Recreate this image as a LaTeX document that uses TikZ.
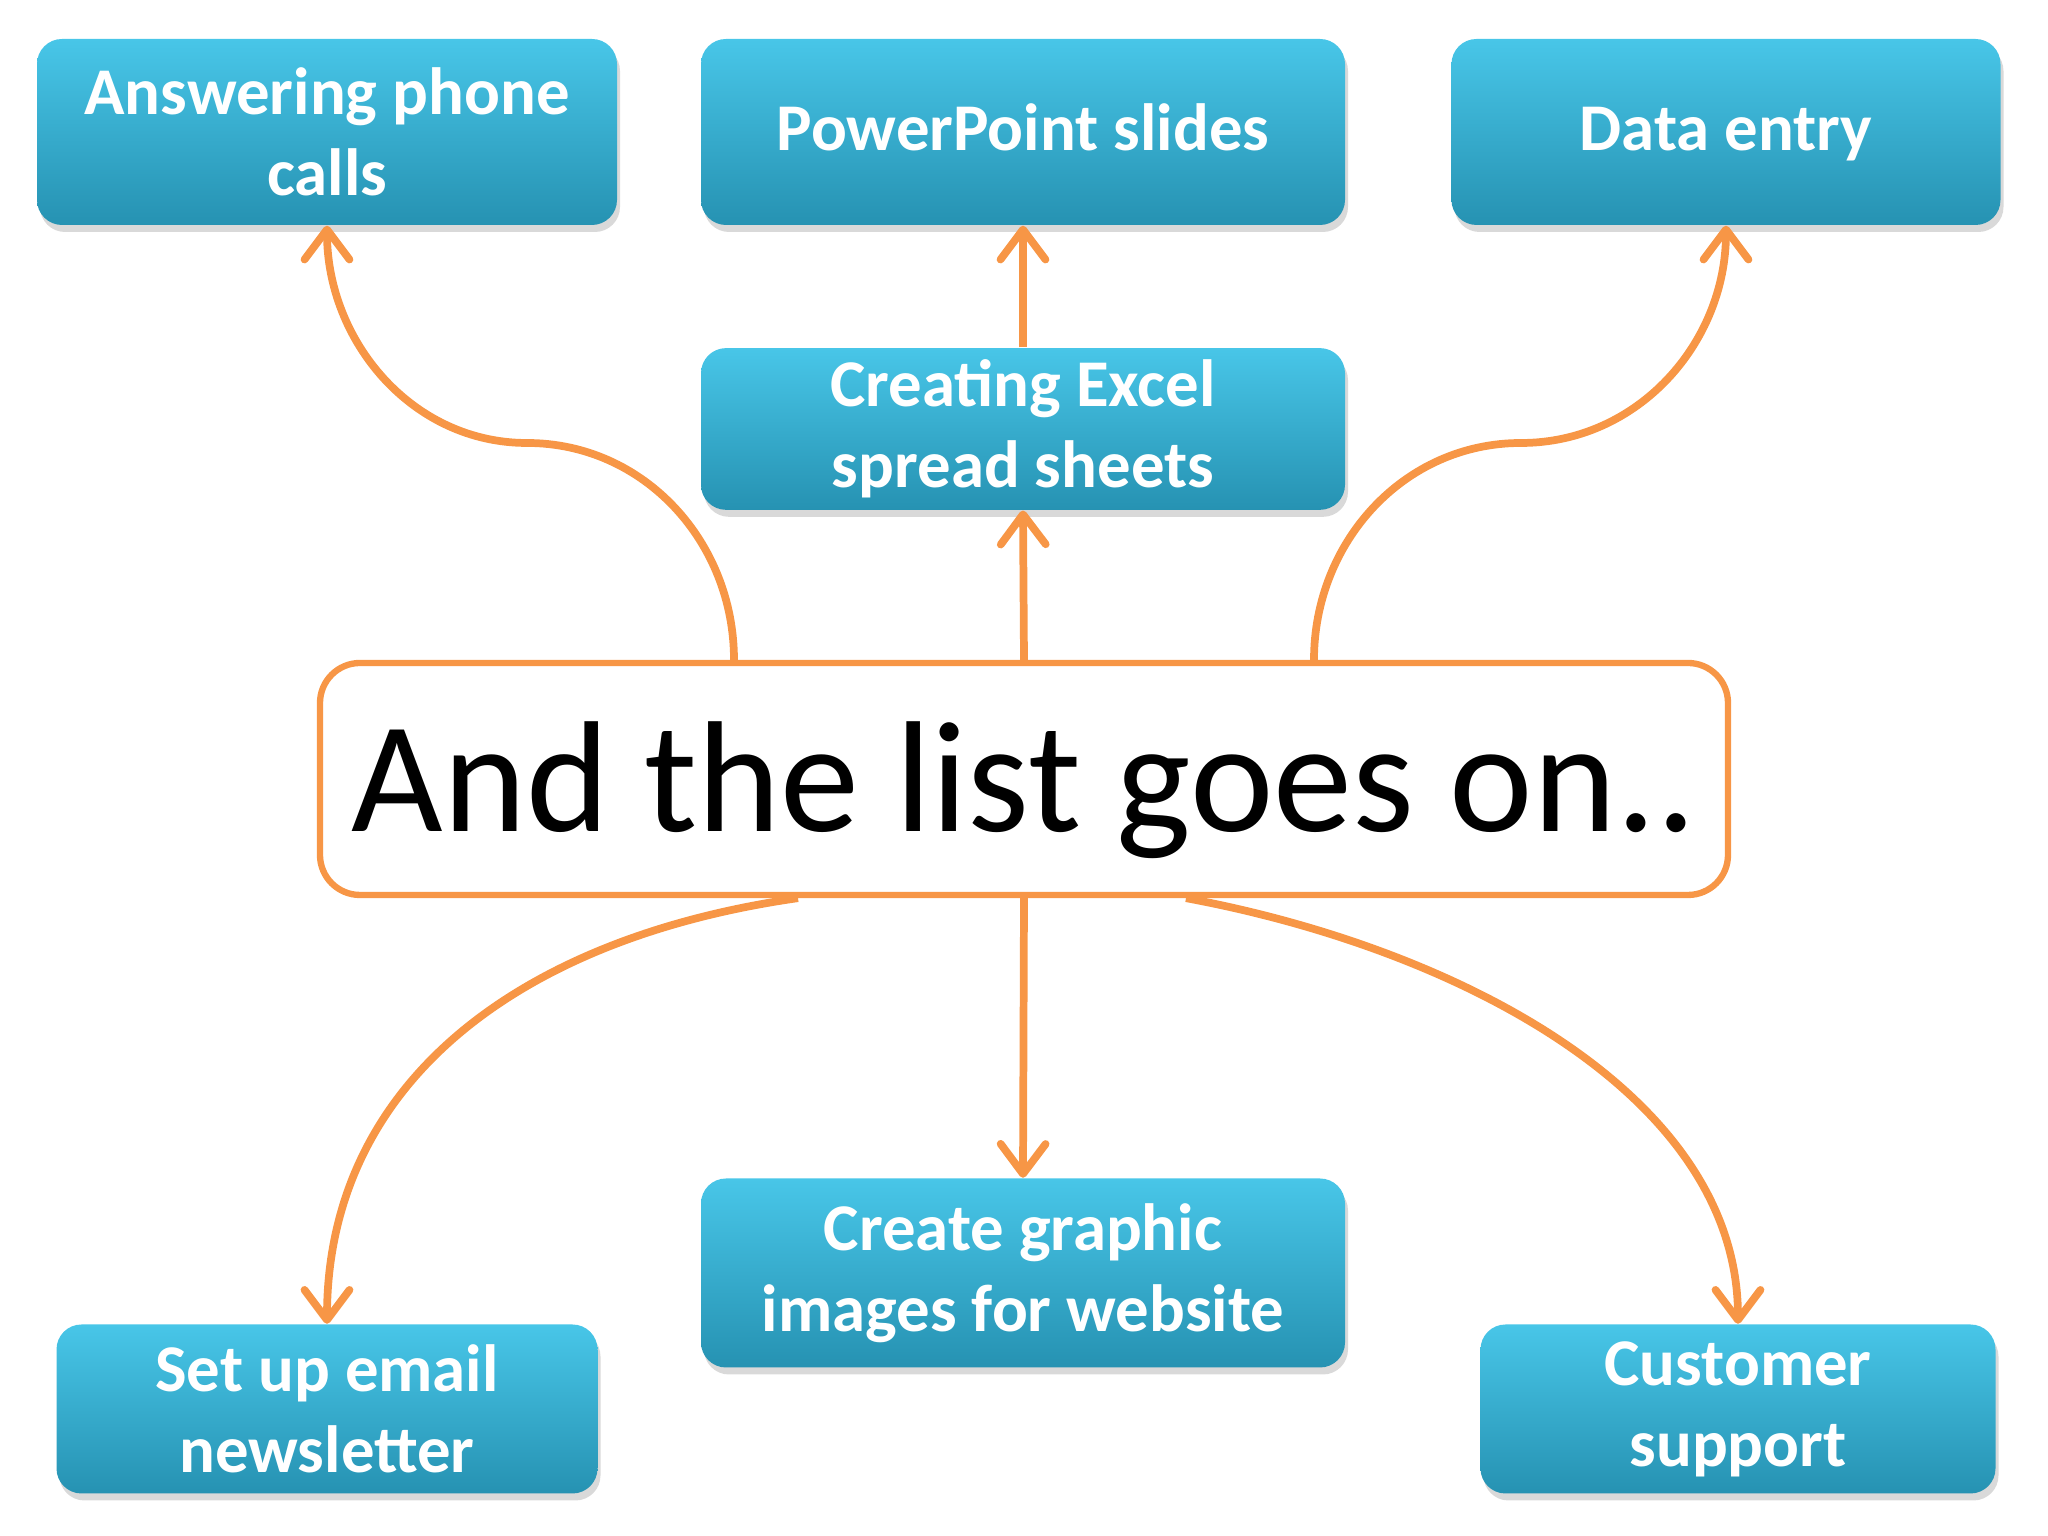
\documentclass[tikz,border=0pt]{standalone}
\usepackage{fontspec}
\setmainfont{Carlito}
\usetikzlibrary{arrows.meta,shadows}
\definecolor{naranja}{RGB}{247,150,70}
\definecolor{cianA}{RGB}{72,198,232}
\definecolor{cianB}{RGB}{38,146,178}

\begin{document}
\begin{tikzpicture}[
    caja/.style={rounded corners=0.25cm,top color=cianA,bottom color=cianB,
      drop shadow={opacity=0.3,shadow xshift=0.03cm,shadow yshift=-0.07cm},
      text=white,font=\bfseries\fontsize{19}{23}\selectfont,align=center,
      minimum height=1.86cm},
    unalinea/.style={text height=0.5cm,text depth=0.12cm},
    lista/.style={draw=naranja,line width=1.8pt,fill=white,rounded corners=0.4cm,
      minimum width=14.08cm,minimum height=2.32cm,font=\fontsize{45}{50}\selectfont},
    flecha/.style={naranja,line width=2.2pt,
      -{Straight Barb[round,length=0.3cm,width=0.45cm]}}
  ]
    \useasboundingbox (0,0) rectangle (20.48,15.36);

    % Cajas
    \node[caja,minimum width=5.80cm] (R) at (3.27,14.04) {Answering phone\\calls};
    \node[caja,unalinea,minimum width=6.44cm] (P) at (10.23,14.04) {PowerPoint slides};
    \node[caja,unalinea,minimum width=5.49cm] (D) at (17.26,14.04) {Data entry};
    \node[caja,minimum width=6.44cm,minimum height=1.60cm] (E) at (10.23,11.07) {Creating Excel\\spread sheets};
    \node[caja,minimum width=6.44cm,minimum height=1.89cm] (G) at (10.23,2.63) {Create graphic\\images for website};
    \node[caja,minimum width=5.41cm,minimum height=1.69cm] (M) at (3.27,1.27) {Set up email\\newsletter};
    \node[caja,minimum width=5.15cm,minimum height=1.69cm] (C) at (17.38,1.27) {Customer\\support};

    % Centro
    \node[lista,text depth=0.3cm,text height=1.35cm] (L) at (10.24,7.57) {And the list goes on..};

    % Flechas hacia arriba
    \coordinate (U) at (5.27,10.93);
    \coordinate (V) at (15.21,10.93);
    \draw[flecha] ([xshift=-2.90cm]L.north) to[out=90,in=0] (U) to[out=180,in=-90] (R.south);
    \draw[flecha] (L.north) -- (E.south);
    \draw[flecha] (E.north) -- (P.south);
    \draw[flecha] ([xshift=2.90cm]L.north) to[out=90,in=180] (V) to[out=0,in=-90] (D.south);

    % Flechas hacia abajo
    \draw[flecha] ([xshift=-2.26cm]L.south) .. controls +(-2.8,-0.4) and +(0,2.4) .. (M.north);
    \draw[flecha] (L.south) -- (G.north);
    \draw[flecha] ([xshift=1.62cm]L.south) .. controls +(2.7,-0.5) and +(0,2.3) .. (C.north);
\end{tikzpicture}
\end{document}
